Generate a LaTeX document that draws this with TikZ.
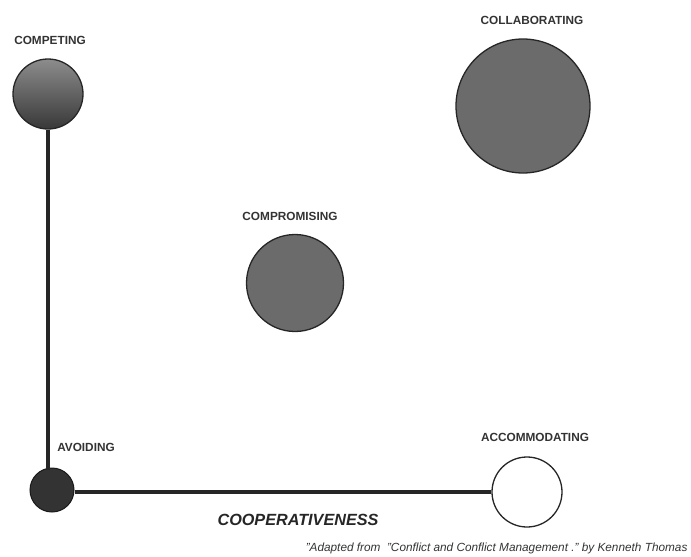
\documentclass[tikz,border=0pt]{standalone}
\usepackage{fontspec}
\setmainfont{Liberation Sans}
\begin{document}
\begin{tikzpicture}[x=1pt,y=-1pt,
  lbl/.style={font=\fontsize{11.8}{13}\selectfont\bfseries, text=black!80},
  ball/.style={circle, draw=black!85, line width=1.3pt, inner sep=0pt, shading=axis, top color=black!45, bottom color=black!78, shading angle=0},
  flatball/.style={circle, draw=black!85, line width=1.3pt, inner sep=0pt, fill=black!58},
  axisline/.style={line width=3.2pt, black!85}]
\useasboundingbox (0,0) rectangle (691,557);
\node[ball, minimum size=70pt] (competing) at (48,94) {};
\node[lbl] (lcompeting) at (50,40) {COMPETING};
\node[flatball, minimum size=134pt] (collab) at (523,106) {};
\node[lbl] (lcollab) at (532,20) {COLLABORATING};
\node[flatball, minimum size=97pt] (comprom) at (295,283) {};
\node[lbl] (lcomprom) at (290,216) {COMPROMISING};
\node[circle, minimum size=44pt, inner sep=0pt, fill=black!80, draw=black!90, line width=1pt] (avoiding) at (52,490) {};
\node[lbl] (lavoiding) at (86,447) {AVOIDING};
\node[circle, minimum size=70pt, inner sep=0pt, draw=black!85, line width=1.3pt, fill=white] (accom) at (527,492) {};
\node[lbl] (laccom) at (535,437) {ACCOMMODATING};
\draw[axisline] (competing.south) -- (48,470);
\draw[axisline] (avoiding.east |- 0,492) -- (accom.west |- 0,492);
\node[font=\fontsize{16.2}{18}\selectfont\bfseries\itshape, text=black!85] (coop) at (298,520) {COOPERATIVENESS};
\node[font=\fontsize{11.8}{13}\selectfont\itshape, text=black!80, anchor=east] (note) at (691,548) {"Adapted from \ "Conflict and Conflict Management ." by Kenneth Thomas};
\end{tikzpicture}
\end{document}
